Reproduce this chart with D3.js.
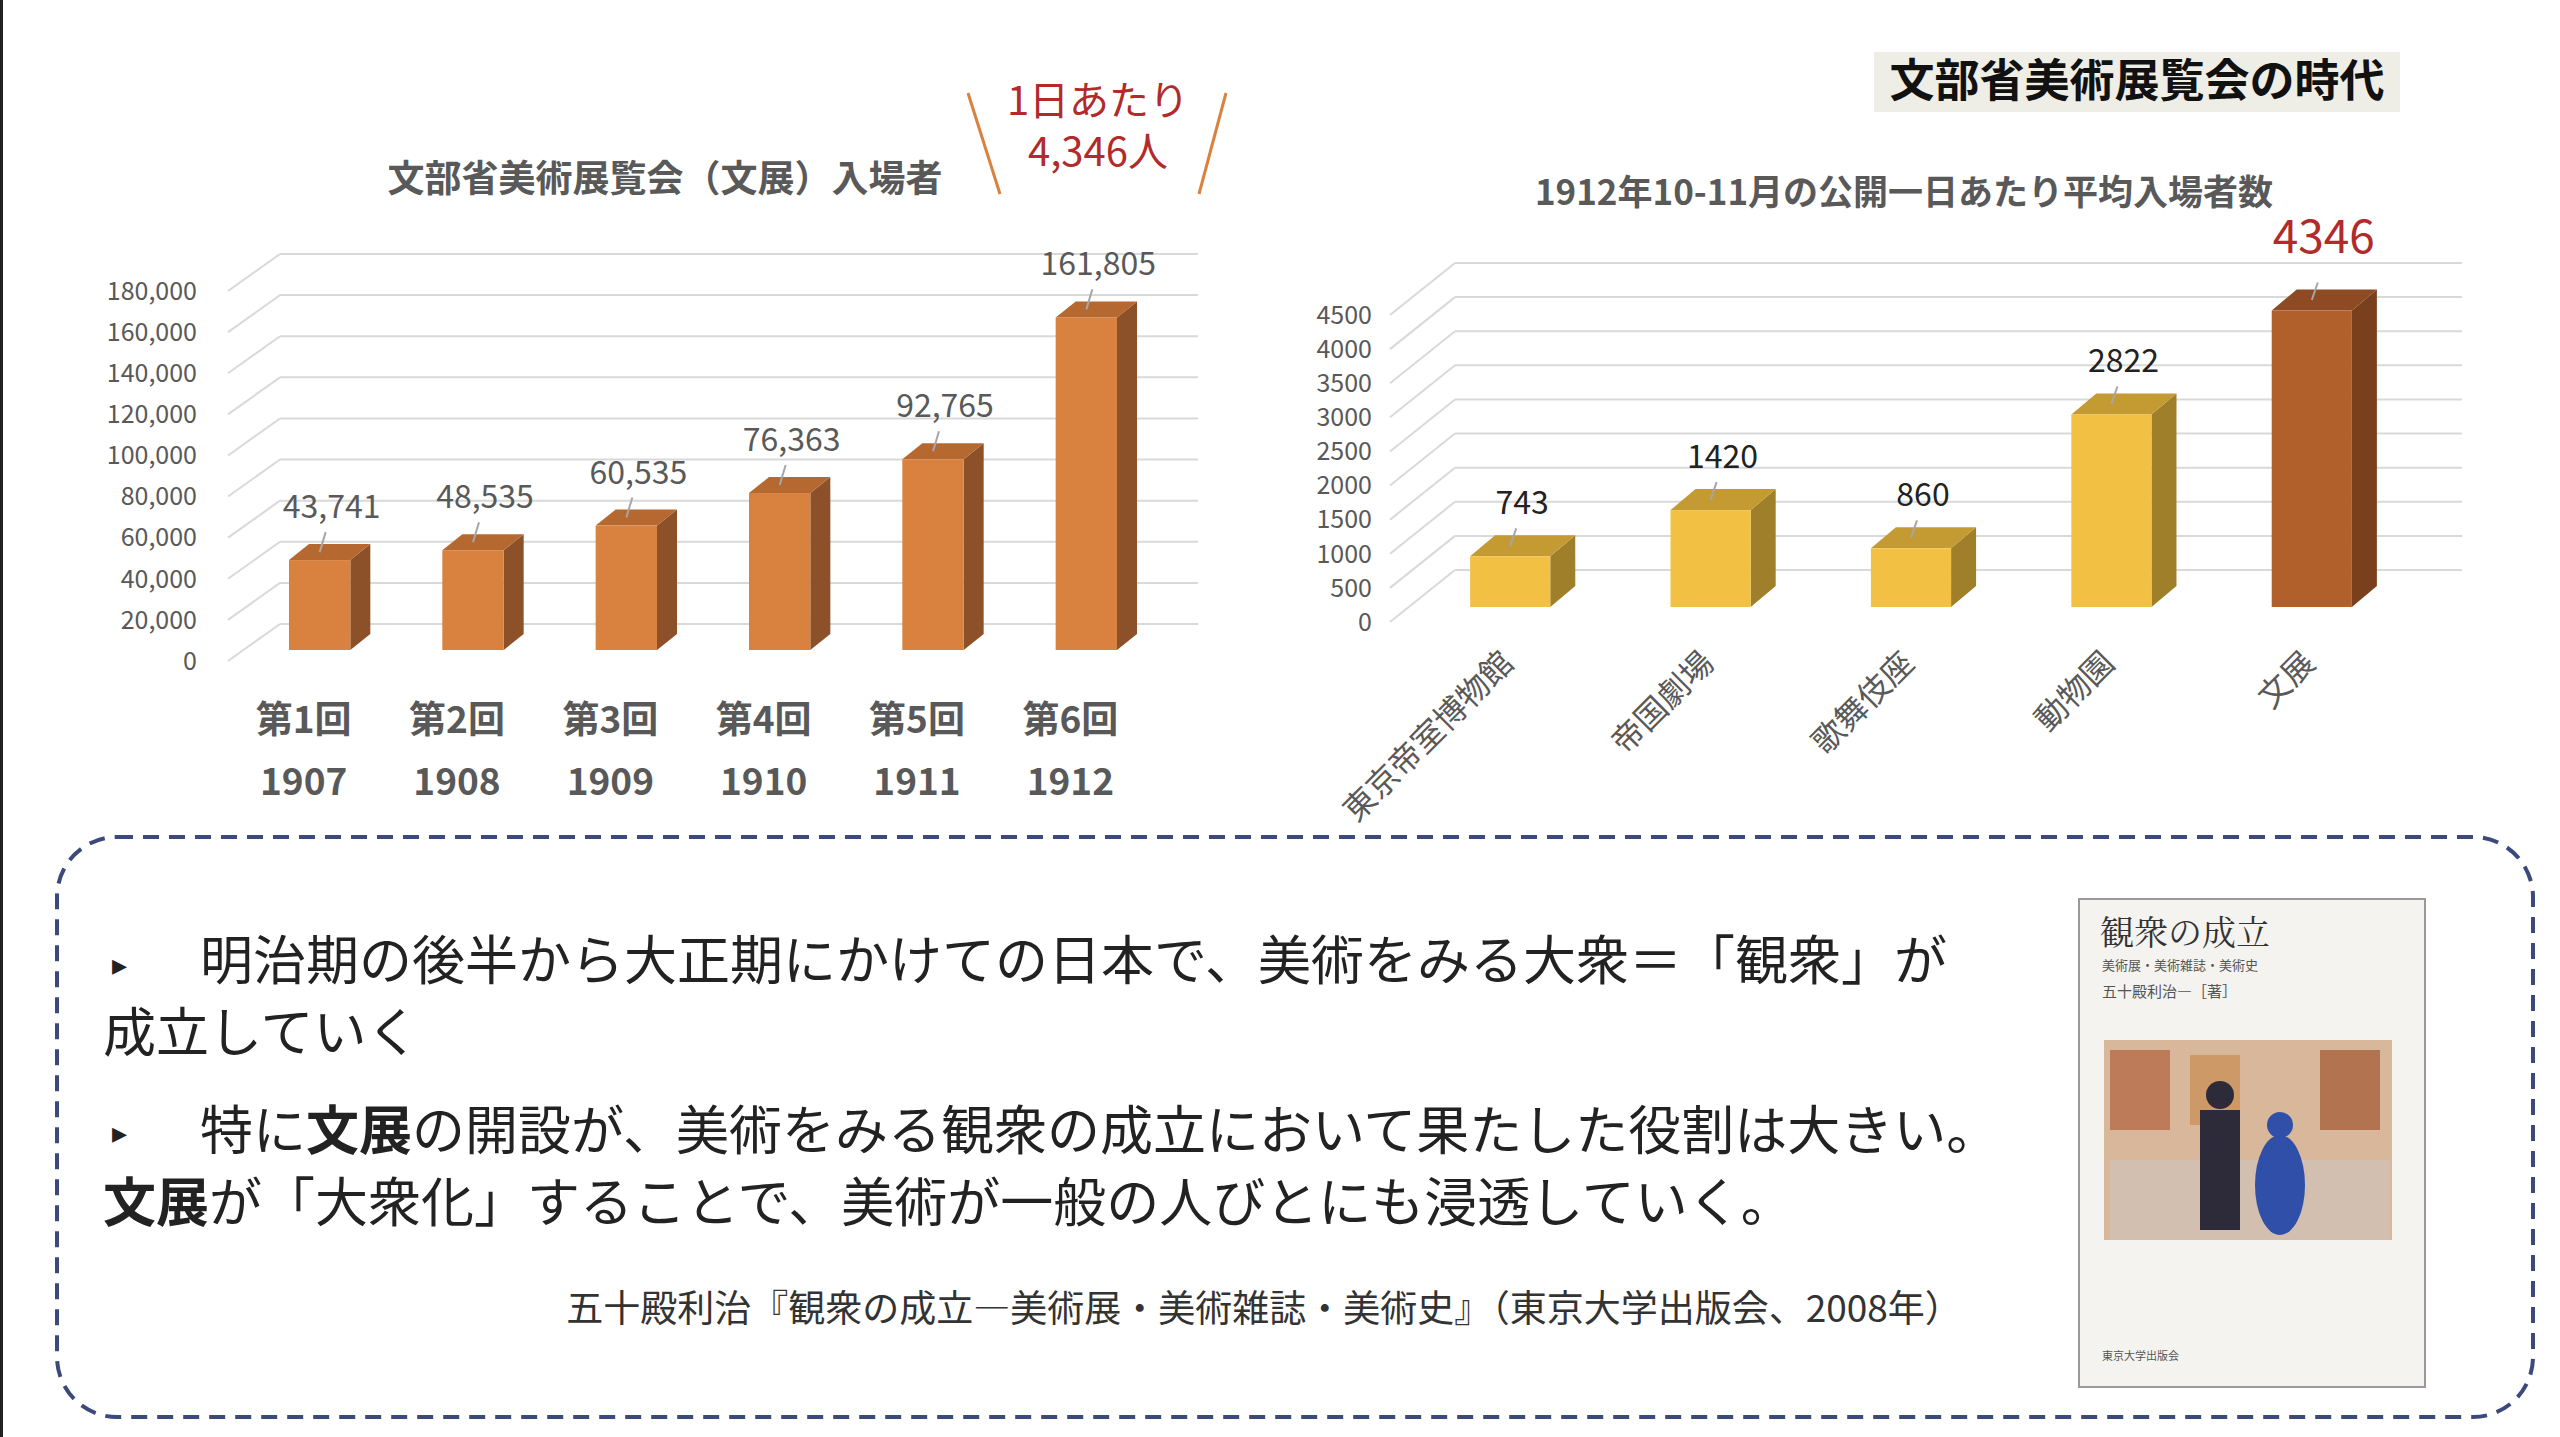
<!DOCTYPE html>
<html><head><meta charset="utf-8">
<script src="https://cdn.jsdelivr.net/npm/d3@7"></script>
<style>body{margin:0;background:#fff}svg{display:block}</style></head>
<body><svg id="c" width="2560" height="1437"></svg>
<script>
const leftCats=["第1回","第2回","第3回","第4回","第5回","第6回"];
const leftYears=["1907","1908","1909","1910","1911","1912"];
const leftValues=[43741,48535,60535,76363,92765,161805];
const leftTicks=[0,20000,40000,60000,80000,100000,120000,140000,160000,180000];
const rightCats=["東京帝室博物館","帝国劇場","歌舞伎座","動物園","文展"];
const rightValues=[743,1420,860,2822,4346];
const rightTicks=[0,500,1000,1500,2000,2500,3000,3500,4000,4500];

const svg=d3.select("#c");
const F="'Noto Sans CJK JP','Noto Sans',sans-serif";
svg.append("rect").attr("x",0).attr("y",0).attr("width",3).attr("height",1437).attr("fill","#222");

function chart(o){
  const g=svg.append("g");
  const y=d3.scaleLinear().domain([0,o.max]).range([o.y0,o.y1]);
  const x=d3.scaleBand().domain(o.cats).range([o.x0,o.x1]).paddingInner(o.pad).paddingOuter(o.pad/2);
  o.ticks.forEach(t=>{
    const yy=y(t);
    g.append("line").attr("x1",o.gx0).attr("y1",yy+o.lab).attr("x2",o.gx0+o.gdx).attr("y2",yy+o.lab+o.gdy).attr("stroke","#d9d9d9").attr("stroke-width",2);
    g.append("line").attr("x1",o.gx0+o.gdx).attr("y1",yy+o.lab+o.gdy).attr("x2",o.gx1).attr("y2",yy+o.lab+o.gdy).attr("stroke","#d9d9d9").attr("stroke-width",2);
    g.append("text").attr("x",o.lx).attr("y",yy+o.lab).attr("dy","0.35em").attr("text-anchor","end")
     .attr("font-family",F).attr("font-size",o.tfs).attr("fill","#595959").text(o.fmt(t));
  });
  o.vals.forEach((v,i)=>{
    const c=o.cats[i],bx=x(c),bw=x.bandwidth(),top=y(v),bot=y(0),dx=o.dx,dy=o.dy;
    const col=o.colors(i);
    g.append("path").attr("d",`M${bx+bw},${bot}L${bx+bw+dx},${bot+dy}L${bx+bw+dx},${top+dy}L${bx+bw},${top}Z`).attr("fill",col[1]);
    g.append("path").attr("d",`M${bx},${top}L${bx+dx},${top+dy}L${bx+bw+dx},${top+dy}L${bx+bw},${top}Z`).attr("fill",col[2]);
    g.append("rect").attr("x",bx).attr("y",top).attr("width",bw).attr("height",bot-top).attr("fill",col[0]);
    const cx=bx+bw/2;
    g.append("line").attr("x1",cx).attr("y1",top+dy/2).attr("x2",cx+6).attr("y2",top-28).attr("stroke","#a6a6a6").attr("stroke-width",2);
    const vl=o.vlabel(i,v);
    g.append("text").attr("x",cx+12).attr("y",top-o.voff(i)).attr("text-anchor","middle")
     .attr("font-family",F).attr("font-size",vl.fs).attr("fill",vl.fill).text(vl.t);
  });
  return {g,x};
}

// Left chart
const L=chart({cats:leftCats,vals:leftValues,ticks:leftTicks,max:180000,y0:650,y1:280,x0:243,x1:1163,pad:0.6,
  gx0:228,gdx:52,gdy:-37,gx1:1198,lab:11,lx:197,tfs:25,fmt:d3.format(","),dx:20,dy:-16,
  colors:()=>["#d9813f","#8c5128","#b5682f"],
  vlabel:(i,v)=>({t:d3.format(",")(v),fs:32,fill:"#595959"}),voff:()=>42});
svg.append("text").attr("x",665).attr("y",192).attr("text-anchor","middle").attr("font-family",F).attr("font-weight","bold")
 .attr("font-size",37).attr("fill","#595959").text("文部省美術展覧会（文展）入場者");
leftCats.forEach((c,i)=>{
  const cx=L.x(c)+L.x.bandwidth()/2-16;
  svg.append("text").attr("x",cx).attr("y",733).attr("text-anchor","middle").attr("font-family",F).attr("font-weight","bold").attr("font-size",37).attr("fill","#595959").text(c);
  svg.append("text").attr("x",cx).attr("y",795).attr("text-anchor","middle").attr("font-family",F).attr("font-weight","bold").attr("font-size",37).attr("fill","#595959").text(leftYears[i]);
});
svg.append("text").attr("x",1098).attr("y",115).attr("text-anchor","middle").attr("font-family",F).attr("font-size",40).attr("fill","#b22a2a").text("1日あたり");
svg.append("text").attr("x",1098).attr("y",166).attr("text-anchor","middle").attr("font-family",F).attr("font-size",40).attr("fill","#b22a2a").text("4,346人");
svg.append("line").attr("x1",968).attr("y1",93).attr("x2",1000).attr("y2",194).attr("stroke","#d9813f").attr("stroke-width",3);
svg.append("line").attr("x1",1226).attr("y1",93).attr("x2",1199).attr("y2",194).attr("stroke","#d9813f").attr("stroke-width",3);

// Right chart
const R=chart({cats:rightCats,vals:rightValues,ticks:rightTicks,max:4500,y0:607,y1:300,x0:1410,x1:2412,pad:0.6,
  gx0:1390,gdx:65,gdy:-52,gx1:2462,lab:15,lx:1372,tfs:25,fmt:d=>d,dx:25,dy:-21,
  colors:i=>i===4?["#b15f2b","#7a3f1c","#8e4a22"]:["#f2c043","#a07f2a","#c49a33"],
  vlabel:(i,v)=>i===4?{t:v,fs:46,fill:"#b22a2a"}:{t:v,fs:32,fill:"#222"},voff:i=>i===4?58:42});
svg.append("rect").attr("x",1874).attr("y",52).attr("width",526).attr("height",60).attr("fill","#eeede6");
svg.append("text").attr("x",2137).attr("y",97).attr("text-anchor","middle").attr("font-family",F).attr("font-weight","bold").attr("font-size",45).attr("fill","#111").text("文部省美術展覧会の時代");
svg.append("text").attr("x",1904).attr("y",205).attr("text-anchor","middle").attr("font-family",F).attr("font-weight","bold").attr("font-size",35).attr("fill","#595959").text("1912年10-11月の公開一日あたり平均入場者数");
rightCats.forEach((c,i)=>{
  const cx=R.x(c)+R.x.bandwidth()/2+5;
  svg.append("text").attr("transform",`translate(${cx},665) rotate(-45)`).attr("text-anchor","end").attr("font-family",F).attr("font-size",32).attr("fill","#595959").text(c);
});

// Bottom box
svg.append("rect").attr("x",57).attr("y",837).attr("width",2476).attr("height",580).attr("rx",60).attr("fill","none")
 .attr("stroke","#3b4a7a").attr("stroke-width",4).attr("stroke-dasharray","16,10");
function line(x,y,parts,fs){
  const t=svg.append("text").attr("x",x).attr("y",y).attr("font-family",F).attr("font-size",fs).attr("fill","#222");
  parts.forEach(p=>t.append("tspan").attr("font-weight",p[1]?"bold":"normal").text(p[0]));
}
svg.append("text").attr("x",112).attr("y",975).attr("font-family",F).attr("font-size",30).attr("fill","#222").text("▸");
svg.append("text").attr("x",112).attr("y",1143).attr("font-family",F).attr("font-size",30).attr("fill","#222").text("▸");
line(200,980,[["明治期の後半から大正期にかけての日本で、美術をみる大衆＝「観衆」が"]],53);
line(103,1052,[["成立していく"]],53);
line(200,1150,[["特に"],["文展",1],["の開設が、美術をみる観衆の成立において果たした役割は大きい。"]],53);
line(103,1222,[["文展",1],["が「大衆化」することで、美術が一般の人びとにも浸透していく。"]],53);
svg.append("text").attr("x",1264).attr("y",1322).attr("text-anchor","middle").attr("font-family",F).attr("font-size",37).attr("fill","#333")
 .text("五十殿利治『観衆の成立―美術展・美術雑誌・美術史』（東京大学出版会、2008年）");

// Book
const b=svg.append("g");
b.append("rect").attr("x",2079).attr("y",899).attr("width",346).attr("height",488).attr("fill","#f4f3ef").attr("stroke","#999").attr("stroke-width",2);
b.append("text").attr("x",2100).attr("y",945).attr("font-family","'Noto Serif CJK JP','Noto Sans CJK JP',serif").attr("font-size",34).attr("fill","#333").text("観衆の成立");
b.append("text").attr("x",2102).attr("y",970).attr("font-family",F).attr("font-size",13).attr("fill","#555").text("美術展・美術雑誌・美術史");
b.append("text").attr("x",2102).attr("y",997).attr("font-family",F).attr("font-size",15).attr("fill","#555").text("五十殿利治―［著］");
b.append("rect").attr("x",2104).attr("y",1040).attr("width",288).attr("height",200).attr("fill","#d9b79a");
[[2110,1050,60,80,"#b76b4a"],[2190,1055,50,70,"#c9925a"],[2320,1050,60,80,"#a8623d"],[2110,1160,280,80,"#cfc0b4"]].forEach(r=>
  b.append("rect").attr("x",r[0]).attr("y",r[1]).attr("width",r[2]).attr("height",r[3]).attr("fill",r[4]).attr("opacity",0.8));
b.append("rect").attr("x",2200).attr("y",1110).attr("width",40).attr("height",120).attr("fill","#2d2a3a");
b.append("circle").attr("cx",2220).attr("cy",1095).attr("r",14).attr("fill","#2d2a3a");
b.append("ellipse").attr("cx",2280).attr("cy",1185).attr("rx",25).attr("ry",50).attr("fill","#2f4fa8");
b.append("circle").attr("cx",2280).attr("cy",1125).attr("r",13).attr("fill","#2f4fa8");
b.append("text").attr("x",2102).attr("y",1360).attr("font-family",F).attr("font-size",11).attr("fill","#555").text("東京大学出版会");
</script></body></html>
